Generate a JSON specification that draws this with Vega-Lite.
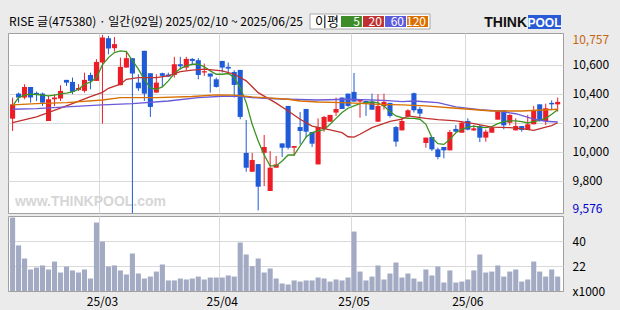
{
  "$schema": "https://vega.github.io/schema/vega-lite/v6.json",
  "background": "#ebebeb",
  "padding": {"left": 7, "top": 12, "right": 13, "bottom": 4},
  "spacing": 0,
  "config": {
    "font": "Noto Sans CJK KR",
    "text": {"font": "Noto Sans CJK KR"},
    "axis": {"labelFont": "Noto Sans CJK KR", "labelFontSize": 12, "labelColor": "#000000", "gridColor": "#d9d9d9", "title": null, "labelOverlap": false}
  },
  "datasets": {
    "ohlc": [
      {"d":"2025-02-10","o":10228,"h":10373,"l":10143,"c":10327,"v":56.9},
      {"d":"2025-02-11","o":10401,"h":10408,"l":10339,"c":10374,"v":36.8},
      {"d":"2025-02-12","o":10374,"h":10466,"l":10362,"c":10447,"v":27.4},
      {"d":"2025-02-13","o":10447,"h":10447,"l":10339,"c":10374,"v":19.5},
      {"d":"2025-02-14","o":10406,"h":10415,"l":10350,"c":10392,"v":20.9},
      {"d":"2025-02-17","o":10401,"h":10408,"l":10316,"c":10339,"v":22.4},
      {"d":"2025-02-18","o":10212,"h":10385,"l":10212,"c":10362,"v":19.5},
      {"d":"2025-02-19","o":10362,"h":10397,"l":10316,"c":10374,"v":25.2},
      {"d":"2025-02-20","o":10367,"h":10459,"l":10350,"c":10420,"v":17.3},
      {"d":"2025-02-21","o":10496,"h":10496,"l":10454,"c":10477,"v":21.6},
      {"d":"2025-02-24","o":10482,"h":10512,"l":10397,"c":10413,"v":18.8},
      {"d":"2025-02-25","o":10427,"h":10466,"l":10420,"c":10440,"v":17.3},
      {"d":"2025-02-26","o":10420,"h":10546,"l":10408,"c":10496,"v":19.5},
      {"d":"2025-02-27","o":10530,"h":10546,"l":10431,"c":10489,"v":13},
      {"d":"2025-02-28","o":10489,"h":10639,"l":10489,"c":10620,"v":53.3},
      {"d":"2025-03-04","o":10616,"h":10807,"l":10194,"c":10789,"v":39.6},
      {"d":"2025-03-05","o":10784,"h":10800,"l":10673,"c":10713,"v":21.6},
      {"d":"2025-03-06","o":10715,"h":10793,"l":10692,"c":10743,"v":22.4},
      {"d":"2025-03-07","o":10459,"h":10650,"l":10459,"c":10586,"v":18.8},
      {"d":"2025-03-10","o":10581,"h":10697,"l":10581,"c":10646,"v":15.9},
      {"d":"2025-03-11","o":10646,"h":10646,"l":9576,"c":10540,"v":31},
      {"d":"2025-03-12","o":10477,"h":10535,"l":10420,"c":10438,"v":16.6},
      {"d":"2025-03-13","o":10697,"h":10697,"l":10350,"c":10401,"v":13},
      {"d":"2025-03-14","o":10542,"h":10542,"l":10240,"c":10309,"v":14.4},
      {"d":"2025-03-17","o":10408,"h":10535,"l":10408,"c":10477,"v":18},
      {"d":"2025-03-18","o":10542,"h":10546,"l":10447,"c":10524,"v":23.1},
      {"d":"2025-03-19","o":10533,"h":10546,"l":10517,"c":10519,"v":11.6},
      {"d":"2025-03-20","o":10530,"h":10655,"l":10512,"c":10604,"v":11.6},
      {"d":"2025-03-21","o":10604,"h":10655,"l":10567,"c":10590,"v":13},
      {"d":"2025-03-24","o":10581,"h":10655,"l":10563,"c":10641,"v":12.3},
      {"d":"2025-03-25","o":10641,"h":10646,"l":10604,"c":10627,"v":13},
      {"d":"2025-03-26","o":10632,"h":10646,"l":10500,"c":10530,"v":14.4},
      {"d":"2025-03-27","o":10547,"h":10609,"l":10524,"c":10556,"v":12.3},
      {"d":"2025-03-28","o":10540,"h":10540,"l":10408,"c":10519,"v":13.7},
      {"d":"2025-03-31","o":10500,"h":10512,"l":10443,"c":10447,"v":13.7},
      {"d":"2025-04-01","o":10627,"h":10627,"l":10547,"c":10581,"v":13.7},
      {"d":"2025-04-02","o":10586,"h":10616,"l":10535,"c":10574,"v":15.2},
      {"d":"2025-04-03","o":10551,"h":10563,"l":10374,"c":10461,"v":14.4},
      {"d":"2025-04-04","o":10565,"h":10565,"l":10224,"c":10240,"v":38.9},
      {"d":"2025-04-07","o":9991,"h":10219,"l":9861,"c":9889,"v":30.3},
      {"d":"2025-04-08","o":9861,"h":9991,"l":9861,"c":9942,"v":21.9},
      {"d":"2025-04-09","o":9914,"h":9914,"l":9594,"c":9758,"v":27.4},
      {"d":"2025-04-10","o":9993,"h":10115,"l":9762,"c":10032,"v":17.3},
      {"d":"2025-04-11","o":9728,"h":10004,"l":9728,"c":9889,"v":20.2},
      {"d":"2025-04-14","o":9889,"h":9970,"l":9889,"c":9912,"v":13},
      {"d":"2025-04-15","o":10057,"h":10057,"l":9963,"c":10027,"v":9.4},
      {"d":"2025-04-16","o":10316,"h":10316,"l":10016,"c":10027,"v":8.7},
      {"d":"2025-04-17","o":10027,"h":10039,"l":9970,"c":10039,"v":11.6},
      {"d":"2025-04-18","o":10170,"h":10274,"l":10050,"c":10143,"v":10.8},
      {"d":"2025-04-21","o":10295,"h":10295,"l":10097,"c":10138,"v":11.6},
      {"d":"2025-04-22","o":10136,"h":10136,"l":10032,"c":10055,"v":11.6},
      {"d":"2025-04-23","o":9912,"h":10230,"l":9912,"c":10170,"v":13.7},
      {"d":"2025-04-24","o":10157,"h":10247,"l":10138,"c":10240,"v":13},
      {"d":"2025-04-25","o":10207,"h":10254,"l":10207,"c":10254,"v":10.8},
      {"d":"2025-04-28","o":10270,"h":10374,"l":10247,"c":10295,"v":12.3},
      {"d":"2025-04-29","o":10374,"h":10374,"l":10295,"c":10295,"v":11.6},
      {"d":"2025-04-30","o":10401,"h":10401,"l":10309,"c":10316,"v":13.7},
      {"d":"2025-05-02","o":10413,"h":10544,"l":10346,"c":10346,"v":46.8},
      {"d":"2025-05-07","o":10346,"h":10360,"l":10235,"c":10360,"v":18},
      {"d":"2025-05-08","o":10350,"h":10350,"l":10247,"c":10332,"v":11.6},
      {"d":"2025-05-09","o":10346,"h":10401,"l":10290,"c":10290,"v":14.4},
      {"d":"2025-05-12","o":10207,"h":10397,"l":10207,"c":10316,"v":22.4},
      {"d":"2025-05-13","o":10314,"h":10401,"l":10290,"c":10344,"v":12.3},
      {"d":"2025-05-14","o":10337,"h":10337,"l":10235,"c":10247,"v":16.6},
      {"d":"2025-05-15","o":10170,"h":10177,"l":10034,"c":10069,"v":24.5},
      {"d":"2025-05-16","o":10147,"h":10235,"l":10147,"c":10212,"v":13.7},
      {"d":"2025-05-19","o":10244,"h":10293,"l":10235,"c":10286,"v":16.6},
      {"d":"2025-05-20","o":10404,"h":10408,"l":10270,"c":10286,"v":13},
      {"d":"2025-05-21","o":10295,"h":10309,"l":10240,"c":10263,"v":10.8},
      {"d":"2025-05-22","o":10060,"h":10097,"l":10027,"c":10097,"v":19.5},
      {"d":"2025-05-23","o":10101,"h":10101,"l":10004,"c":10016,"v":15.2},
      {"d":"2025-05-26","o":10016,"h":10027,"l":9947,"c":9963,"v":21.6},
      {"d":"2025-05-27","o":10032,"h":10032,"l":9954,"c":10009,"v":10.1},
      {"d":"2025-05-28","o":10009,"h":10150,"l":10009,"c":10136,"v":18.8},
      {"d":"2025-05-29","o":10157,"h":10184,"l":10131,"c":10138,"v":10.1},
      {"d":"2025-05-30","o":10131,"h":10212,"l":10131,"c":10200,"v":10.8},
      {"d":"2025-06-02","o":10212,"h":10230,"l":10147,"c":10152,"v":12.3},
      {"d":"2025-06-04","o":10147,"h":10184,"l":10143,"c":10161,"v":18.8},
      {"d":"2025-06-05","o":10177,"h":10184,"l":10067,"c":10097,"v":30.3},
      {"d":"2025-06-09","o":10097,"h":10152,"l":10069,"c":10138,"v":17.3},
      {"d":"2025-06-10","o":10131,"h":10177,"l":10131,"c":10166,"v":18},
      {"d":"2025-06-11","o":10221,"h":10286,"l":10221,"c":10286,"v":22.4},
      {"d":"2025-06-12","o":10286,"h":10286,"l":10154,"c":10182,"v":14.4},
      {"d":"2025-06-13","o":10200,"h":10258,"l":10182,"c":10254,"v":18},
      {"d":"2025-06-16","o":10147,"h":10230,"l":10147,"c":10177,"v":19.5},
      {"d":"2025-06-17","o":10177,"h":10177,"l":10138,"c":10150,"v":10.8},
      {"d":"2025-06-18","o":10152,"h":10254,"l":10152,"c":10189,"v":12.3},
      {"d":"2025-06-19","o":10189,"h":10316,"l":10189,"c":10286,"v":25.2},
      {"d":"2025-06-20","o":10327,"h":10327,"l":10207,"c":10212,"v":18},
      {"d":"2025-06-23","o":10212,"h":10332,"l":10184,"c":10300,"v":14.4},
      {"d":"2025-06-24","o":10337,"h":10355,"l":10286,"c":10327,"v":19.5},
      {"d":"2025-06-25","o":10327,"h":10374,"l":10277,"c":10344,"v":14.4}
    ],
    "ma": [
      {"d":"2025-02-10","s":"5","v":10316},{"d":"2025-02-11","s":"5","v":10374},{"d":"2025-02-12","s":"5","v":10390},{"d":"2025-02-13","s":"5","v":10397},{"d":"2025-02-14","s":"5","v":10395},
      {"d":"2025-02-17","s":"5","v":10390},{"d":"2025-02-18","s":"5","v":10385},{"d":"2025-02-19","s":"5","v":10390},{"d":"2025-02-20","s":"5","v":10400},{"d":"2025-02-21","s":"5","v":10405},
      {"d":"2025-02-24","s":"5","v":10413},{"d":"2025-02-25","s":"5","v":10431},{"d":"2025-02-26","s":"5","v":10466},{"d":"2025-02-27","s":"5","v":10480},{"d":"2025-02-28","s":"5","v":10512},
      {"d":"2025-03-04","s":"5","v":10600},{"d":"2025-03-05","s":"5","v":10650},{"d":"2025-03-06","s":"5","v":10685},{"d":"2025-03-07","s":"5","v":10697},{"d":"2025-03-10","s":"5","v":10692},
      {"d":"2025-03-11","s":"5","v":10630},{"d":"2025-03-12","s":"5","v":10570},{"d":"2025-03-13","s":"5","v":10500},{"d":"2025-03-14","s":"5","v":10440},{"d":"2025-03-17","s":"5","v":10431},
      {"d":"2025-03-18","s":"5","v":10447},{"d":"2025-03-19","s":"5","v":10489},{"d":"2025-03-20","s":"5","v":10540},{"d":"2025-03-21","s":"5","v":10574},{"d":"2025-03-24","s":"5","v":10593},
      {"d":"2025-03-25","s":"5","v":10604},{"d":"2025-03-26","s":"5","v":10604},{"d":"2025-03-27","s":"5","v":10586},{"d":"2025-03-28","s":"5","v":10558},{"d":"2025-03-31","s":"5","v":10535},
      {"d":"2025-04-01","s":"5","v":10535},{"d":"2025-04-02","s":"5","v":10540},{"d":"2025-04-03","s":"5","v":10512},{"d":"2025-04-04","s":"5","v":10443},{"d":"2025-04-07","s":"5","v":10339},
      {"d":"2025-04-08","s":"5","v":10189},{"d":"2025-04-09","s":"5","v":10074},{"d":"2025-04-10","s":"5","v":9977},{"d":"2025-04-11","s":"5","v":9901},{"d":"2025-04-14","s":"5","v":9901},
      {"d":"2025-04-15","s":"5","v":9935},{"d":"2025-04-16","s":"5","v":9977},{"d":"2025-04-17","s":"5","v":9977},{"d":"2025-04-18","s":"5","v":10039},{"d":"2025-04-21","s":"5","v":10101},
      {"d":"2025-04-22","s":"5","v":10131},{"d":"2025-04-23","s":"5","v":10143},{"d":"2025-04-24","s":"5","v":10152},{"d":"2025-04-25","s":"5","v":10189},{"d":"2025-04-28","s":"5","v":10230},
      {"d":"2025-04-29","s":"5","v":10270},{"d":"2025-04-30","s":"5","v":10300},{"d":"2025-05-02","s":"5","v":10316},{"d":"2025-05-07","s":"5","v":10332},{"d":"2025-05-08","s":"5","v":10339},
      {"d":"2025-05-09","s":"5","v":10344},{"d":"2025-05-12","s":"5","v":10337},{"d":"2025-05-13","s":"5","v":10316},{"d":"2025-05-14","s":"5","v":10277},{"d":"2025-05-15","s":"5","v":10247},
      {"d":"2025-05-16","s":"5","v":10235},{"d":"2025-05-19","s":"5","v":10230},{"d":"2025-05-20","s":"5","v":10230},{"d":"2025-05-21","s":"5","v":10224},{"d":"2025-05-22","s":"5","v":10189},
      {"d":"2025-05-23","s":"5","v":10097},{"d":"2025-05-26","s":"5","v":10055},{"d":"2025-05-27","s":"5","v":10050},{"d":"2025-05-28","s":"5","v":10085},{"d":"2025-05-29","s":"5","v":10131},
      {"d":"2025-05-30","s":"5","v":10154},{"d":"2025-06-02","s":"5","v":10170},{"d":"2025-06-04","s":"5","v":10177},{"d":"2025-06-05","s":"5","v":10170},{"d":"2025-06-09","s":"5","v":10166},
      {"d":"2025-06-10","s":"5","v":10173},{"d":"2025-06-11","s":"5","v":10194},{"d":"2025-06-12","s":"5","v":10207},{"d":"2025-06-13","s":"5","v":10212},{"d":"2025-06-16","s":"5","v":10212},
      {"d":"2025-06-17","s":"5","v":10207},{"d":"2025-06-18","s":"5","v":10198},{"d":"2025-06-19","s":"5","v":10207},{"d":"2025-06-20","s":"5","v":10217},{"d":"2025-06-23","s":"5","v":10230},
      {"d":"2025-06-24","s":"5","v":10258},{"d":"2025-06-25","s":"5","v":10290},
      {"d":"2025-02-10","s":"20","v":10201},{"d":"2025-02-14","s":"20","v":10240},{"d":"2025-02-21","s":"20","v":10316},{"d":"2025-02-27","s":"20","v":10380},{"d":"2025-03-04","s":"20","v":10410},
      {"d":"2025-03-05","s":"20","v":10438},{"d":"2025-03-07","s":"20","v":10466},{"d":"2025-03-10","s":"20","v":10500},{"d":"2025-03-12","s":"20","v":10512},{"d":"2025-03-17","s":"20","v":10512},
      {"d":"2025-03-19","s":"20","v":10524},{"d":"2025-03-21","s":"20","v":10553},{"d":"2025-03-25","s":"20","v":10563},{"d":"2025-03-27","s":"20","v":10570},{"d":"2025-04-01","s":"20","v":10558},
      {"d":"2025-04-03","s":"20","v":10535},{"d":"2025-04-07","s":"20","v":10489},{"d":"2025-04-09","s":"20","v":10408},{"d":"2025-04-14","s":"20","v":10335},{"d":"2025-04-16","s":"20","v":10281},
      {"d":"2025-04-18","s":"20","v":10224},{"d":"2025-04-22","s":"20","v":10177},{"d":"2025-04-25","s":"20","v":10150},{"d":"2025-04-29","s":"20","v":10131},{"d":"2025-04-30","s":"20","v":10103},
      {"d":"2025-05-02","s":"20","v":10101},{"d":"2025-05-07","s":"20","v":10120},{"d":"2025-05-09","s":"20","v":10166},{"d":"2025-05-14","s":"20","v":10210},{"d":"2025-05-16","s":"20","v":10224},
      {"d":"2025-05-19","s":"20","v":10247},{"d":"2025-05-22","s":"20","v":10230},{"d":"2025-05-26","s":"20","v":10221},{"d":"2025-05-29","s":"20","v":10212},{"d":"2025-06-04","s":"20","v":10194},
      {"d":"2025-06-10","s":"20","v":10170},{"d":"2025-06-13","s":"20","v":10166},{"d":"2025-06-17","s":"20","v":10159},{"d":"2025-06-19","s":"20","v":10147},{"d":"2025-06-23","s":"20","v":10170},
      {"d":"2025-06-24","s":"20","v":10180},{"d":"2025-06-25","s":"20","v":10200},
      {"d":"2025-02-10","s":"60","v":10293},{"d":"2025-02-14","s":"60","v":10297},{"d":"2025-02-21","s":"60","v":10309},{"d":"2025-03-04","s":"60","v":10323},{"d":"2025-03-11","s":"60","v":10332},
      {"d":"2025-03-19","s":"60","v":10350},{"d":"2025-03-26","s":"60","v":10374},{"d":"2025-04-01","s":"60","v":10383},{"d":"2025-04-04","s":"60","v":10383},{"d":"2025-04-08","s":"60","v":10374},
      {"d":"2025-04-10","s":"60","v":10369},{"d":"2025-04-16","s":"60","v":10362},{"d":"2025-04-23","s":"60","v":10357},{"d":"2025-04-30","s":"60","v":10362},{"d":"2025-05-13","s":"60","v":10355},
      {"d":"2025-05-16","s":"60","v":10346},{"d":"2025-05-20","s":"60","v":10350},{"d":"2025-05-26","s":"60","v":10339},{"d":"2025-05-29","s":"60","v":10309},{"d":"2025-06-05","s":"60","v":10290},
      {"d":"2025-06-11","s":"60","v":10281},{"d":"2025-06-16","s":"60","v":10262},{"d":"2025-06-19","s":"60","v":10225},{"d":"2025-06-23","s":"60","v":10210},{"d":"2025-06-25","s":"60","v":10205},
      {"d":"2025-02-10","s":"120","v":10323},{"d":"2025-02-14","s":"120","v":10332},{"d":"2025-02-21","s":"120","v":10339},{"d":"2025-03-04","s":"120","v":10357},{"d":"2025-03-07","s":"120","v":10374},
      {"d":"2025-03-17","s":"120","v":10374},{"d":"2025-03-25","s":"120","v":10381},{"d":"2025-03-31","s":"120","v":10392},{"d":"2025-04-03","s":"120","v":10390},{"d":"2025-04-08","s":"120","v":10378},
      {"d":"2025-04-10","s":"120","v":10374},{"d":"2025-04-16","s":"120","v":10362},{"d":"2025-04-18","s":"120","v":10350},{"d":"2025-04-23","s":"120","v":10343},{"d":"2025-04-29","s":"120","v":10339},
      {"d":"2025-05-07","s":"120","v":10334},{"d":"2025-05-12","s":"120","v":10327},{"d":"2025-05-16","s":"120","v":10323},{"d":"2025-05-22","s":"120","v":10316},{"d":"2025-05-29","s":"120","v":10300},
      {"d":"2025-06-10","s":"120","v":10281},{"d":"2025-06-17","s":"120","v":10281},{"d":"2025-06-25","s":"120","v":10293}
    ]
  },
  "vconcat": [
    {
      "width": 555,
      "height": 20,
      "view": {"stroke": null, "fill": null},
      "layer": [
        {
          "data": {"values": [{"t": "RISE 글(475380) · 일간(92일) 2025/02/10 ~ 2025/06/25"}]},
          "mark": {"type": "text", "align": "center", "baseline": "middle", "font": "Noto Sans CJK KR", "fontSize": 12, "color": "#000000"},
          "encoding": {
            "x": {"field": "t", "type": "nominal", "scale": {"range": [0, 296], "paddingInner": 0, "paddingOuter": 0}, "axis": null},
            "y": {"datum": "b", "type": "nominal", "scale": {"range": [0, 19], "paddingInner": 0, "paddingOuter": 0}, "axis": null},
            "text": {"field": "t"}
          }
        },
        {
          "data": {"values": [{"o": "이평"}]},
          "layer": [
            {
              "mark": {"type": "rect", "fill": "#ffffff", "stroke": "#a8a8a8", "strokeWidth": 1},
              "encoding": {
                "x": {"field": "o", "type": "nominal", "scale": {"range": [302, 422], "paddingInner": 0, "paddingOuter": 0}, "axis": null},
                "y": {"datum": "b", "type": "nominal", "scale": {"range": [2, 17], "paddingInner": 0, "paddingOuter": 0}, "axis": null}
              }
            },
            {
              "mark": {"type": "text", "align": "left", "baseline": "middle", "dx": 5, "font": "Noto Sans CJK KR", "fontSize": 13, "color": "#000000"},
              "encoding": {
                "x": {"field": "o", "type": "nominal", "bandPosition": 0, "axis": null},
                "y": {"datum": "b", "type": "nominal", "axis": null},
                "text": {"field": "o"}
              }
            }
          ]
        },
        {
          "data": {"values": [{"k": "5", "c": "#3e8c28"}, {"k": "20", "c": "#c03030"}, {"k": "60", "c": "#5a5adc"}, {"k": "120", "c": "#dc6e00"}]},
          "layer": [
            {
              "mark": {"type": "rect"},
              "encoding": {
                "x": {"field": "k", "type": "nominal", "sort": null, "scale": {"range": [333, 420], "paddingInner": 0.05, "paddingOuter": 0}, "axis": null},
                "y": {"datum": "b", "type": "nominal", "scale": {"range": [4, 15], "paddingInner": 0, "paddingOuter": 0}, "axis": null},
                "fill": {"field": "c", "type": "nominal", "scale": null}
              }
            },
            {
              "mark": {"type": "text", "align": "right", "baseline": "middle", "dx": -2, "font": "Noto Sans CJK KR", "fontSize": 12, "color": "#ffffff"},
              "encoding": {
                "x": {"field": "k", "type": "nominal", "sort": null, "bandPosition": 1, "axis": null},
                "y": {"datum": "b", "type": "nominal", "axis": null},
                "text": {"field": "k"}
              }
            }
          ]
        },
        {
          "data": {"values": [{"p": "POOL"}]},
          "layer": [
            {
              "mark": {"type": "rect", "fill": "#2a5bd7"},
              "encoding": {
                "x": {"field": "p", "type": "nominal", "scale": {"range": [520, 553], "paddingInner": 0, "paddingOuter": 0}, "axis": null},
                "y": {"datum": "b", "type": "nominal", "scale": {"range": [3, 17], "paddingInner": 0, "paddingOuter": 0}, "axis": null}
              }
            },
            {
              "mark": {"type": "text", "align": "center", "baseline": "middle", "dy": 1, "font": "Liberation Sans", "fontWeight": "bold", "fontSize": 12, "color": "#ffffff"},
              "encoding": {
                "x": {"field": "p", "type": "nominal", "axis": null},
                "y": {"datum": "b", "type": "nominal", "axis": null},
                "text": {"field": "p"}
              }
            },
            {
              "mark": {"type": "text", "align": "right", "baseline": "middle", "dx": -1, "dy": 1, "font": "Liberation Sans", "fontWeight": "bold", "fontSize": 14, "color": "#111111", "text": "THINK"},
              "encoding": {
                "x": {"field": "p", "type": "nominal", "bandPosition": 0, "axis": null},
                "y": {"datum": "b", "type": "nominal", "axis": null}
              }
            }
          ]
        }
      ],
      "resolve": {"scale": {"x": "independent", "y": "independent"}}
    },
    {
      "width": 555,
      "height": 180,
      "view": {"stroke": "#a0a0a0", "fill": "#ffffff"},
      "data": {"name": "ohlc"},
      "encoding": {
        "x": {
          "field": "d", "type": "ordinal",
          "scale": {"paddingInner": 0.15, "paddingOuter": 0.402, "align": 0.425},
          "axis": {"values": ["2025-03-04", "2025-04-01", "2025-05-02", "2025-06-02"], "bandPosition": 0, "labels": false, "ticks": false, "domain": false, "grid": true, "title": null}
        }
      },
      "layer": [
        {
          "data": {"values": [{"t": "www.THINKPOOL.com"}]},
          "mark": {"type": "text", "font": "Liberation Sans", "fontSize": 14, "fontWeight": "bold", "color": "#d6d6d6"},
          "encoding": {
            "x": {"datum": "2025-02-27", "type": "ordinal"},
            "y": {"datum": 9655, "type": "quantitative", "scale": {"domain": [9576, 10820], "nice": false, "zero": false}, "axis": {
                "orient": "right", "values": [9576, 9800, 10000, 10200, 10400, 10600, 10757], "tickCount": 20, "format": ",d",
                "domain": false, "ticks": false, "labelPadding": 9, "labelOverlap": false, "grid": true, "title": null,
                "labelColor": {"condition": [{"test": "datum.value == 10757", "value": "#c8640f"}, {"test": "datum.value == 9576", "value": "#0000cc"}], "value": "#000000"},
                "gridOpacity": {"condition": {"test": "datum.value == 10757 || datum.value == 9576", "value": 0}, "value": 1},
                "labelOffset": {"condition": [{"test": "datum.value == 10757", "value": -3}, {"test": "datum.value == 9576", "value": -5}], "value": 0}
              }},
            "text": {"field": "t"}
          }
        },
        {
          "mark": {"type": "rule", "strokeWidth": 1},
          "encoding": {
            "y": {"field": "l", "type": "quantitative"},
            "y2": {"field": "h"},
            "color": {"condition": {"test": "datum.c >= datum.o", "value": "#ee1c25"}, "value": "#1f5ad8"}
          }
        },
        {
          "mark": {"type": "bar"},
          "encoding": {
            "y": {"field": "o", "type": "quantitative"},
            "y2": {"field": "c"},
            "color": {"condition": {"test": "datum.c >= datum.o", "value": "#ee1c25"}, "value": "#1f5ad8"}
          }
        },
        {
          "data": {"name": "ma"},
          "mark": {"type": "line", "strokeWidth": 1.3},
          "encoding": {
            "y": {"field": "v", "type": "quantitative"},
            "color": {"field": "s", "type": "nominal", "scale": {"domain": ["5", "20", "60", "120"], "range": ["#3a9420", "#c0302c", "#6a5ad8", "#d87000"]}, "legend": null}
          }
        }
      ]
    },
    {
      "width": 555,
      "height": 75,
      "view": {"stroke": "#a0a0a0", "fill": "#ffffff"},
      "data": {"name": "ohlc"},
      "mark": {"type": "bar", "color": "#a3abc4"},
      "encoding": {
        "x": {
          "field": "d", "type": "ordinal",
          "scale": {"paddingInner": 0.15, "paddingOuter": 0.402, "align": 0.425},
          "axis": {"values": ["2025-03-04", "2025-04-01", "2025-05-02", "2025-06-02"], "labelExpr": "slice(datum.value, 2, 4) + '/' + slice(datum.value, 5, 7)", "bandPosition": 0, "labelAngle": 0, "labelPadding": 5, "labelOverlap": false, "ticks": false, "domain": false, "grid": true, "title": null}
        },
        "y": {
          "field": "v", "type": "quantitative",
          "scale": {"domain": [4, 58], "nice": false, "zero": false},
          "axis": {
            "orient": "right", "values": [4, 22, 40], "tickCount": 10, "labelExpr": "datum.value == 4 ? 'x1000' : datum.label",
            "domain": false, "ticks": false, "labelPadding": 9, "labelOverlap": false, "grid": true, "title": null,
            "gridOpacity": {"condition": {"test": "datum.value == 4", "value": 0}, "value": 1}
          }
        },
        "y2": {"datum": 4}
      }
    }
  ]
}
